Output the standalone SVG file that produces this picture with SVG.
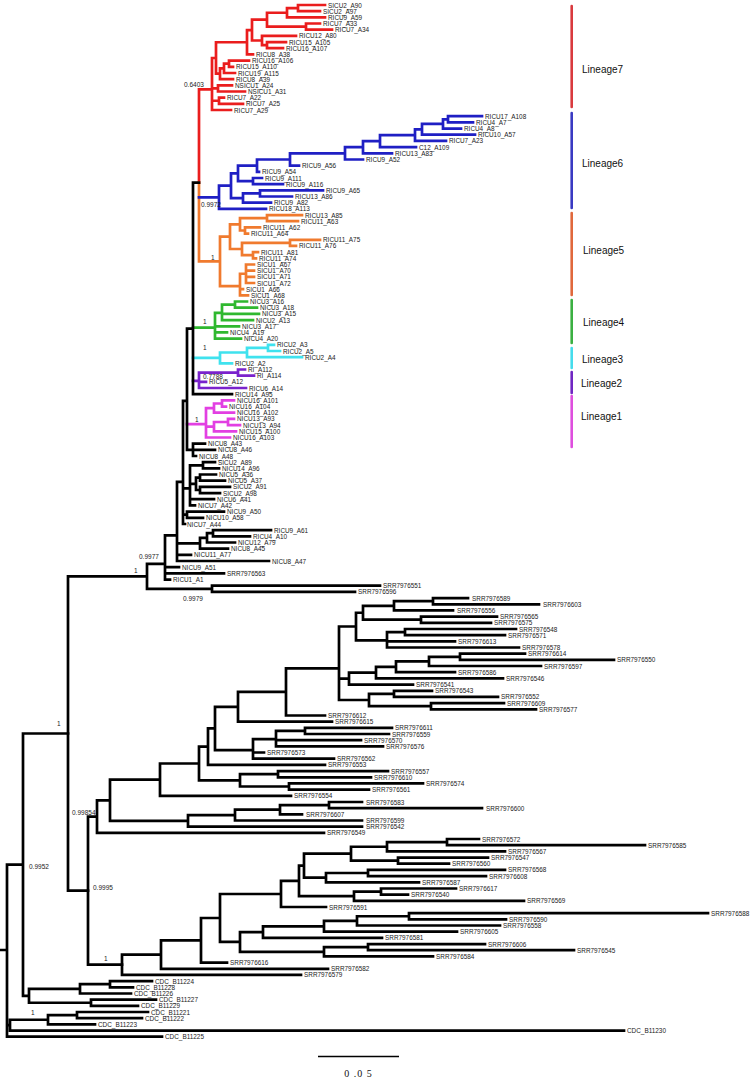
<svg xmlns="http://www.w3.org/2000/svg" width="750" height="1079" viewBox="0 0 750 1079">
<style>
.br{fill:none;stroke-width:2.7;stroke-linecap:square}
.k{stroke:#000}.r{stroke:#ea1d1d}.b{stroke:#1f1fc4}.o{stroke:#f07a2e}.g{stroke:#2fb82f}.c{stroke:#3fe2ee}.p{stroke:#7a22cc}.m{stroke:#e23fe2}
text{font-family:"Liberation Sans",Arial,sans-serif}
.t text{font-size:6.4px;fill:#1a1a1a;dominant-baseline:central}
.s{font-size:6.5px;fill:#222;dominant-baseline:central}
.lin text{font-size:10px;fill:#111;dominant-baseline:central}
.bar{stroke-width:2.6;stroke-linecap:round}
</style>
<rect width="750" height="1079" fill="#fff"/>
<g id="connectors">
<path class="br r" d="M298 5V11.2M298 5H325M298 11.2H320M287 8.1V17.4M287 8.1H298M287 17.4H325M306 23.5V29.7M306 23.5H320M306 29.7H332M267 12.75V26.6M267 12.75H287M267 26.6H306M267 42.1V48.2M267 42.1H286M267 48.2H283M262 35.9V45.15M262 35.9H296M262 45.15H267M252 19.7V40.5M252 19.7H267M252 40.5H262M247 30.1V54.4M247 30.1H252M247 54.4H253M229 60.6V66.8M229 60.6H249M229 66.8H233M224 63.7V73M224 63.7H229M224 73H235M220 68.35V79.1M220 68.35H224M220 79.1H233M216 42.25V73.7M216 42.25H247M216 73.7H220M218 85.3V91.5M218 85.3H232M218 91.5H245M219 97.7V103.8M219 97.7H224M219 103.8H243M212 57.98V110M212 57.98H216M212 88.4H218M212 100.75H219M212 110H231M199 89.3V182.7M199 89.3H212"/>
<path class="br o" d="M199 182.7V261.4M199 261.4H220M267 215.1V221.2M267 215.1H302M267 221.2H298M245 227.4V233.6M245 227.4H260M245 233.6H248M240 218.15V230.5M240 218.15H267M240 230.5H245M290 239.8V245.9M290 239.8H320M290 245.9H296M253 252.1V258.3M253 252.1H258M253 258.3H256M242 242.85V255.2M242 242.85H290M242 255.2H253M230 224.3V249M230 224.3H240M230 249H242M246 264.5V283M246 264.5H254M246 270.7H254M246 276.8H254M246 283H254M240 273.75V295.4M240 273.75H246M240 289.2H243M240 295.4H248M220 236.65V286.1M220 236.65H230M220 286.1H240"/>
<path class="br b" d="M199 197.3H219M448 116.2V122.4M448 116.2H482M448 122.4H473M443 119.3V128.6M443 119.3H448M443 128.6H461M422 123.95V134.7M422 123.95H443M422 134.7H475M415 129.3V140.9M415 129.3H422M415 140.9H446M380 135.1V147.1M380 135.1H415M380 147.1H416M363 141.1V153.3M363 141.1H380M363 153.3H392M345 147.2V159.5M345 147.2H363M345 159.5H363M290 153.35V165.6M290 153.35H345M290 165.6H299M257 159.5V171.8M257 159.5H290M257 171.8H259M253 178V184.2M253 178H262M253 184.2H283M238 165.6V181.1M238 165.6H257M238 181.1H253M260 190.3V196.5M260 190.3H323M260 196.5H292M243 193.4V202.7M243 193.4H260M243 202.7H271M231 173.4V198.05M231 173.4H238M231 198.05H243M219 185.7V208.9M219 185.7H231M219 208.9H266"/>
<path class="br g" d="M193 327.55H215M235 301.5V307.7M235 301.5H247M235 307.7H257M222 304.6V320.1M222 304.6H235M222 313.9H259M222 320.1H253M215 312.9V338.6M215 312.9H222M215 326.3H239M215 332.4H227M215 338.6H241"/>
<path class="br c" d="M193 357.9H220M268 344.8V351M268 344.8H274M268 351H280M247 347.9V357.1M247 347.9H268M247 357.1H302M220 352.5V363.3M220 352.5H247M220 363.3H232"/>
<path class="br p" d="M193 380.8H199M238 369.5V375.7M238 369.5H245M238 375.7H254M199 372.6V388M199 372.6H238M199 381.9H206M199 388H246"/>
<path class="br m" d="M187 424.1H206M222 400.4V406.6M222 400.4H234M222 406.6H226M214 403.5V412.7M214 403.5H222M214 412.7H234M228 418.9V425.1M228 418.9H234M228 425.1H240M214 422V431.3M214 422H228M214 431.3H236M206 408.1V437.5M206 408.1H214M206 426.65H214M206 437.5H230"/>
<path class="br k" d="M193 182.7H199M193 182.7V394.2M193 394.2H232M187 328.6H193M187 328.6V449.8M187 449.8H193M193 443.6V456M193 443.6H205M193 449.8H215M193 456H196M183 400.8V524M183 400.8H187M183 488.4H190M183 514.7H187M183 524H185M203 462.2V468.4M203 462.2H215M203 468.4H219M200 474.5V480.7M200 474.5H216M200 480.7H225M200 486.9V493.1M200 486.9H230M200 493.1H220M196 477.6V490M196 477.6H200M196 490H200M190 465.3V505.4M190 465.3H203M190 483.8H196M190 499.2H214M190 505.4H195M187 511.6V517.8M187 511.6H224M187 517.8H203M213 530.1V536.3M213 530.1H271M213 536.3H250M207 533.2V542.5M207 533.2H213M207 542.5H235M200 537.85V548.7M200 537.85H207M200 548.7H228M177 481.95V561M177 481.95H183M177 543.3H200M177 554.8H191M177 561H269M165 535.3V579.6M165 535.3H177M165 567.2H179M165 573.4H224M165 579.6H170M212 585.7V591.9M212 585.7H380M212 591.9H355M147 563.9V588.8M147 563.9H165M147 588.8H212M68 576.35V890.65M68 576.35H147M68 890.65H88"/>
<path class="br k" d="M433 598.1V604.3M433 598.1H468M433 604.3H539M394 601.2V610.4M394 601.2H433M394 610.4H453M421 616.6V622.8M421 616.6H497M421 622.8H491M363 605.8V619.7M363 605.8H394M363 619.7H421M405 629V635.2M405 629H516M405 635.2H505M387 632.1V647.5M387 632.1H405M387 641.3H455M387 647.5H519M356 612.75V640.3M356 612.75H363M356 640.3H387M460 653.7V659.9M460 653.7H525M460 659.9H614M429 656.8V666M429 656.8H460M429 666H541M396 661.4V672.2M396 661.4H429M396 672.2H455M376 666.8V678.4M376 666.8H396M376 678.4H503M349 672.6V684.6M349 672.6H376M349 684.6H413M394 690.8V696.9M394 690.8H432M394 696.9H498M431 703.1V709.3M431 703.1H504M431 709.3H536M369 693.85V706.2M369 693.85H394M369 706.2H431M339 626.5V700M339 626.5H356M339 678.6H349M339 700H369M286 668.4V715.5M286 668.4H339M286 715.5H325M238 691.95V721.6M238 691.95H286M238 721.6H332M305 727.8V734M305 727.8H392M305 734H389M276 730.9V746.4M276 730.9H305M276 740.2H361M276 746.4H383M253 739.2V758.7M253 739.2H276M253 752.5H264M253 758.7H334M215 706.8V750.1M215 706.8H238M215 750.1H253M208 728.45V764.9M208 728.45H215M208 764.9H325M278 771.1V777.3M278 771.1H388M278 777.3H371M289 783.4V789.6M289 783.4H423M289 789.6H369M240 774.2V786.5M240 774.2H278M240 786.5H289M199 746.7V780.35M199 746.7H208M199 780.35H240M160 763.5V795.8M160 763.5H199M160 795.8H291M329 802V808.1M329 802H362M329 808.1H482M280 805.05V814.3M280 805.05H329M280 814.3H302M235 809.7V820.5M235 809.7H280M235 820.5H362M188 815.1V826.7M188 815.1H235M188 826.7H362M110 779.65V820.9M110 779.65H160M110 820.9H188M97 800.3V832.9M97 800.3H110M97 832.9H324M88 816.6V964.7M88 816.6H97M88 964.7H122"/>
<path class="br k" d="M447 839V845.2M447 839H479M447 845.2H645M387 842.1V851.4M387 842.1H447M387 851.4H505M398 857.6V863.7M398 857.6H488M398 863.7H449M351 846.75V860.65M351 846.75H387M351 860.65H398M368 869.9V876.1M368 869.9H505M368 876.1H486M326 873V882.3M326 873H368M326 882.3H419M304 853.7V877.65M304 853.7H351M304 877.65H326M381 888.5V894.6M381 888.5H456M381 894.6H408M354 891.55V900.8M354 891.55H381M354 900.8H524M299 865.7V896.2M299 865.7H304M299 896.2H354M281 880.95V907M281 880.95H299M281 907H326M409 913.2V919.3M409 913.2H708M409 919.3H506M357 916.25V925.5M357 916.25H409M357 925.5H500M324 920.9V931.7M324 920.9H357M324 931.7H457M263 926.3V937.9M263 926.3H324M263 937.9H382M368 944.1V950.2M368 944.1H485M368 950.2H574M324 947.15V956.4M324 947.15H368M324 956.4H433M240 932.1V951.8M240 932.1H263M240 951.8H324M220 894V941.95M220 894H281M220 941.95H240M201 917.98V962.6M201 917.98H220M201 962.6H227M161 940.3V968.8M161 940.3H201M161 968.8H328M122 954.55V974.9M122 954.55H161M122 974.9H301"/>
<path class="br k" d="M110 981.1V987.3M110 981.1H152M110 987.3H133M80 984.2V993.5M80 984.2H110M80 993.5H131M91 999.7V1005.8M91 999.7H156M91 1005.8H138M29 988.85V1002.75M29 988.85H80M29 1002.75H91M23 733.5V995.8M23 733.5H68M23 995.8H29M77 1012V1018.2M77 1012H148M77 1018.2H142M48 1015.1V1024.4M48 1015.1H77M48 1024.4H95M10 1019.75V1030.6M10 1019.75H48M10 1030.6H624M7 864.65V1036.7M7 864.65H23M7 1025.2H10M7 1036.7H162M1 950H7"/>
</g>
<g id="support-values" class="s">
<text class="s" x="184" y="84">0.6403</text>
<text class="s" x="201" y="204">0.9972</text>
<text class="s" x="211" y="257">1</text>
<text class="s" x="203" y="321">1</text>
<text class="s" x="203" y="347">1</text>
<text class="s" x="203" y="376">0.7788</text>
<text class="s" x="195" y="419">1</text>
<text class="s" x="139" y="556">0.9977</text>
<text class="s" x="134" y="570">1</text>
<text class="s" x="183" y="598">0.9979</text>
<text class="s" x="57" y="723">1</text>
<text class="s" x="72" y="812">0.99854</text>
<text class="s" x="29" y="866">0.9952</text>
<text class="s" x="93" y="887">0.9995</text>
<text class="s" x="104" y="958">1</text>
<text class="s" x="31" y="1012">1</text>
</g>
<g id="leaves" class="t">
<g id="leaf-SICU2_A90"><text x="328" y="5">SICU2_A90</text></g>
<g id="leaf-SICU2_A97"><text x="323" y="11.2">SICU2_A97</text></g>
<g id="leaf-RICU9_A59"><text x="328" y="17.4">RICU9_A59</text></g>
<g id="leaf-RICU7_A33"><text x="323" y="23.5">RICU7_A33</text></g>
<g id="leaf-RICU7_A34"><text x="335" y="29.7">RICU7_A34</text></g>
<g id="leaf-RICU12_A80"><text x="299" y="35.9">RICU12_A80</text></g>
<g id="leaf-RICU15_A105"><text x="289" y="42.1">RICU15_A105</text></g>
<g id="leaf-RICU16_A107"><text x="286" y="48.2">RICU16_A107</text></g>
<g id="leaf-RICU8_A38"><text x="256" y="54.4">RICU8_A38</text></g>
<g id="leaf-RICU16_A106"><text x="252" y="60.6">RICU16_A106</text></g>
<g id="leaf-RICU15_A110"><text x="236" y="66.8">RICU15_A110</text></g>
<g id="leaf-RICU19_A115"><text x="238" y="73">RICU19_A115</text></g>
<g id="leaf-RICU8_A39"><text x="236" y="79.1">RICU8_A39</text></g>
<g id="leaf-NSICU1_A24"><text x="235" y="85.3">NSICU1_A24</text></g>
<g id="leaf-NSICU1_A31"><text x="248" y="91.5">NSICU1_A31</text></g>
<g id="leaf-RICU7_A22"><text x="227" y="97.7">RICU7_A22</text></g>
<g id="leaf-RICU7_A25"><text x="246" y="103.8">RICU7_A25</text></g>
<g id="leaf-RICU7_A29"><text x="234" y="110">RICU7_A29</text></g>
<g id="leaf-RICU17_A108"><text x="485" y="116.2">RICU17_A108</text></g>
<g id="leaf-RICU4_A7"><text x="476" y="122.4">RICU4_A7</text></g>
<g id="leaf-RICU4_A8"><text x="464" y="128.6">RICU4_A8</text></g>
<g id="leaf-RICU10_A57"><text x="478" y="134.7">RICU10_A57</text></g>
<g id="leaf-RICU7_A23"><text x="449" y="140.9">RICU7_A23</text></g>
<g id="leaf-C12_A109"><text x="419" y="147.1">C12_A109</text></g>
<g id="leaf-RICU13_A83"><text x="395" y="153.3">RICU13_A83</text></g>
<g id="leaf-RICU9_A52"><text x="366" y="159.5">RICU9_A52</text></g>
<g id="leaf-RICU9_A56"><text x="302" y="165.6">RICU9_A56</text></g>
<g id="leaf-RICU9_A54"><text x="262" y="171.8">RICU9_A54</text></g>
<g id="leaf-RICU9_A111"><text x="265" y="178">RICU9_A111</text></g>
<g id="leaf-RICU9_A116"><text x="286" y="184.2">RICU9_A116</text></g>
<g id="leaf-RICU9_A65"><text x="326" y="190.3">RICU9_A65</text></g>
<g id="leaf-RICU13_A86"><text x="295" y="196.5">RICU13_A86</text></g>
<g id="leaf-RICU9_A82"><text x="274" y="202.7">RICU9_A82</text></g>
<g id="leaf-RICU18_A113"><text x="269" y="208.9">RICU18_A113</text></g>
<g id="leaf-RICU13_A85"><text x="305" y="215.1">RICU13_A85</text></g>
<g id="leaf-RICU11_A63"><text x="301" y="221.2">RICU11_A63</text></g>
<g id="leaf-RICU11_A62"><text x="263" y="227.4">RICU11_A62</text></g>
<g id="leaf-RICU11_A64"><text x="251" y="233.6">RICU11_A64</text></g>
<g id="leaf-RICU11_A75"><text x="323" y="239.8">RICU11_A75</text></g>
<g id="leaf-RICU11_A76"><text x="299" y="245.9">RICU11_A76</text></g>
<g id="leaf-RICU11_A81"><text x="261" y="252.1">RICU11_A81</text></g>
<g id="leaf-RICU11_A74"><text x="259" y="258.3">RICU11_A74</text></g>
<g id="leaf-SICU1_A67"><text x="257" y="264.5">SICU1_A67</text></g>
<g id="leaf-SICU1_A70"><text x="257" y="270.7">SICU1_A70</text></g>
<g id="leaf-SICU1_A71"><text x="257" y="276.8">SICU1_A71</text></g>
<g id="leaf-SICU1_A72"><text x="257" y="283">SICU1_A72</text></g>
<g id="leaf-SICU1_A66"><text x="246" y="289.2">SICU1_A66</text></g>
<g id="leaf-SICU1_A68"><text x="251" y="295.4">SICU1_A68</text></g>
<g id="leaf-NICU3_A16"><text x="250" y="301.5">NICU3_A16</text></g>
<g id="leaf-NICU3_A18"><text x="260" y="307.7">NICU3_A18</text></g>
<g id="leaf-NICU3_A15"><text x="262" y="313.9">NICU3_A15</text></g>
<g id="leaf-NICU2_A13"><text x="256" y="320.1">NICU2_A13</text></g>
<g id="leaf-NICU3_A17"><text x="242" y="326.3">NICU3_A17</text></g>
<g id="leaf-NICU4_A19"><text x="230" y="332.4">NICU4_A19</text></g>
<g id="leaf-NICU4_A20"><text x="244" y="338.6">NICU4_A20</text></g>
<g id="leaf-RICU2_A3"><text x="277" y="344.8">RICU2_A3</text></g>
<g id="leaf-RICU2_A5"><text x="283" y="351">RICU2_A5</text></g>
<g id="leaf-RICU2_A4"><text x="305" y="357.1">RICU2_A4</text></g>
<g id="leaf-RICU2_A2"><text x="235" y="363.3">RICU2_A2</text></g>
<g id="leaf-RI_A112"><text x="248" y="369.5">RI_A112</text></g>
<g id="leaf-RI_A114"><text x="257" y="375.7">RI_A114</text></g>
<g id="leaf-RICU5_A12"><text x="209" y="381.9">RICU5_A12</text></g>
<g id="leaf-RICU6_A14"><text x="249" y="388">RICU6_A14</text></g>
<g id="leaf-RICU14_A95"><text x="235" y="394.2">RICU14_A95</text></g>
<g id="leaf-NICU16_A101"><text x="237" y="400.4">NICU16_A101</text></g>
<g id="leaf-NICU16_A104"><text x="229" y="406.6">NICU16_A104</text></g>
<g id="leaf-NICU16_A102"><text x="237" y="412.7">NICU16_A102</text></g>
<g id="leaf-NICU13_A93"><text x="237" y="418.9">NICU13_A93</text></g>
<g id="leaf-NICU13_A94"><text x="243" y="425.1">NICU13_A94</text></g>
<g id="leaf-NICU15_A100"><text x="239" y="431.3">NICU15_A100</text></g>
<g id="leaf-NICU16_A103"><text x="233" y="437.5">NICU16_A103</text></g>
<g id="leaf-NICU8_A43"><text x="208" y="443.6">NICU8_A43</text></g>
<g id="leaf-NICU8_A46"><text x="218" y="449.8">NICU8_A46</text></g>
<g id="leaf-NICU8_A48"><text x="199" y="456">NICU8_A48</text></g>
<g id="leaf-SICU2_A89"><text x="218" y="462.2">SICU2_A89</text></g>
<g id="leaf-NICU14_A96"><text x="222" y="468.4">NICU14_A96</text></g>
<g id="leaf-NICU5_A36"><text x="219" y="474.5">NICU5_A36</text></g>
<g id="leaf-NICU5_A37"><text x="228" y="480.7">NICU5_A37</text></g>
<g id="leaf-SICU2_A91"><text x="233" y="486.9">SICU2_A91</text></g>
<g id="leaf-SICU2_A98"><text x="223" y="493.1">SICU2_A98</text></g>
<g id="leaf-NICU6_A41"><text x="217" y="499.2">NICU6_A41</text></g>
<g id="leaf-NICU7_A42"><text x="198" y="505.4">NICU7_A42</text></g>
<g id="leaf-NICU9_A50"><text x="227" y="511.6">NICU9_A50</text></g>
<g id="leaf-NICU10_A58"><text x="206" y="517.8">NICU10_A58</text></g>
<g id="leaf-NICU7_A44"><text x="187" y="524">NICU7_A44</text></g>
<g id="leaf-RICU9_A61"><text x="274" y="530.1">RICU9_A61</text></g>
<g id="leaf-RICU4_A10"><text x="253" y="536.3">RICU4_A10</text></g>
<g id="leaf-NICU12_A79"><text x="238" y="542.5">NICU12_A79</text></g>
<g id="leaf-NICU8_A45"><text x="231" y="548.7">NICU8_A45</text></g>
<g id="leaf-NICU11_A77"><text x="194" y="554.8">NICU11_A77</text></g>
<g id="leaf-NICU8_A47"><text x="272" y="561">NICU8_A47</text></g>
<g id="leaf-NICU9_A51"><text x="182" y="567.2">NICU9_A51</text></g>
<g id="leaf-SRR7976563"><text x="227" y="573.4">SRR7976563</text></g>
<g id="leaf-RICU1_A1"><text x="173" y="579.6">RICU1_A1</text></g>
<g id="leaf-SRR7976551"><text x="383" y="585.7">SRR7976551</text></g>
<g id="leaf-SRR7976596"><text x="358" y="591.9">SRR7976596</text></g>
<g id="leaf-SRR7976589"><text x="472" y="598.1">SRR7976589</text></g>
<g id="leaf-SRR7976603"><text x="543" y="604.3">SRR7976603</text></g>
<g id="leaf-SRR7976556"><text x="457" y="610.4">SRR7976556</text></g>
<g id="leaf-SRR7976565"><text x="500" y="616.6">SRR7976565</text></g>
<g id="leaf-SRR7976575"><text x="494" y="622.8">SRR7976575</text></g>
<g id="leaf-SRR7976548"><text x="519" y="629">SRR7976548</text></g>
<g id="leaf-SRR7976571"><text x="508" y="635.2">SRR7976571</text></g>
<g id="leaf-SRR7976613"><text x="458" y="641.3">SRR7976613</text></g>
<g id="leaf-SRR7976578"><text x="522" y="647.5">SRR7976578</text></g>
<g id="leaf-SRR7976614"><text x="528" y="653.7">SRR7976614</text></g>
<g id="leaf-SRR7976550"><text x="617" y="659.9">SRR7976550</text></g>
<g id="leaf-SRR7976597"><text x="544" y="666">SRR7976597</text></g>
<g id="leaf-SRR7976586"><text x="458" y="672.2">SRR7976586</text></g>
<g id="leaf-SRR7976546"><text x="506" y="678.4">SRR7976546</text></g>
<g id="leaf-SRR7976541"><text x="416" y="684.6">SRR7976541</text></g>
<g id="leaf-SRR7976543"><text x="435" y="690.8">SRR7976543</text></g>
<g id="leaf-SRR7976552"><text x="501" y="696.9">SRR7976552</text></g>
<g id="leaf-SRR7976609"><text x="507" y="703.1">SRR7976609</text></g>
<g id="leaf-SRR7976577"><text x="539" y="709.3">SRR7976577</text></g>
<g id="leaf-SRR7976612"><text x="328" y="715.5">SRR7976612</text></g>
<g id="leaf-SRR7976615"><text x="335" y="721.6">SRR7976615</text></g>
<g id="leaf-SRR7976611"><text x="395" y="727.8">SRR7976611</text></g>
<g id="leaf-SRR7976559"><text x="392" y="734">SRR7976559</text></g>
<g id="leaf-SRR7976570"><text x="364" y="740.2">SRR7976570</text></g>
<g id="leaf-SRR7976576"><text x="386" y="746.4">SRR7976576</text></g>
<g id="leaf-SRR7976573"><text x="267" y="752.5">SRR7976573</text></g>
<g id="leaf-SRR7976562"><text x="337" y="758.7">SRR7976562</text></g>
<g id="leaf-SRR7976553"><text x="328" y="764.9">SRR7976553</text></g>
<g id="leaf-SRR7976557"><text x="391" y="771.1">SRR7976557</text></g>
<g id="leaf-SRR7976610"><text x="374" y="777.3">SRR7976610</text></g>
<g id="leaf-SRR7976574"><text x="426" y="783.4">SRR7976574</text></g>
<g id="leaf-SRR7976561"><text x="372" y="789.6">SRR7976561</text></g>
<g id="leaf-SRR7976554"><text x="294" y="795.8">SRR7976554</text></g>
<g id="leaf-SRR7976583"><text x="366" y="802">SRR7976583</text></g>
<g id="leaf-SRR7976600"><text x="486" y="808.1">SRR7976600</text></g>
<g id="leaf-SRR7976607"><text x="306" y="814.3">SRR7976607</text></g>
<g id="leaf-SRR7976599"><text x="366" y="820.5">SRR7976599</text></g>
<g id="leaf-SRR7976542"><text x="366" y="826.7">SRR7976542</text></g>
<g id="leaf-SRR7976549"><text x="327" y="832.9">SRR7976549</text></g>
<g id="leaf-SRR7976572"><text x="482" y="839">SRR7976572</text></g>
<g id="leaf-SRR7976585"><text x="648" y="845.2">SRR7976585</text></g>
<g id="leaf-SRR7976567"><text x="508" y="851.4">SRR7976567</text></g>
<g id="leaf-SRR7976547"><text x="491" y="857.6">SRR7976547</text></g>
<g id="leaf-SRR7976560"><text x="452" y="863.7">SRR7976560</text></g>
<g id="leaf-SRR7976568"><text x="508" y="869.9">SRR7976568</text></g>
<g id="leaf-SRR7976608"><text x="489" y="876.1">SRR7976608</text></g>
<g id="leaf-SRR7976587"><text x="422" y="882.3">SRR7976587</text></g>
<g id="leaf-SRR7976617"><text x="459" y="888.5">SRR7976617</text></g>
<g id="leaf-SRR7976540"><text x="411" y="894.6">SRR7976540</text></g>
<g id="leaf-SRR7976569"><text x="527" y="900.8">SRR7976569</text></g>
<g id="leaf-SRR7976591"><text x="329" y="907">SRR7976591</text></g>
<g id="leaf-SRR7976588"><text x="711" y="913.2">SRR7976588</text></g>
<g id="leaf-SRR7976590"><text x="509" y="919.3">SRR7976590</text></g>
<g id="leaf-SRR7976558"><text x="503" y="925.5">SRR7976558</text></g>
<g id="leaf-SRR7976605"><text x="460" y="931.7">SRR7976605</text></g>
<g id="leaf-SRR7976581"><text x="385" y="937.9">SRR7976581</text></g>
<g id="leaf-SRR7976606"><text x="488" y="944.1">SRR7976606</text></g>
<g id="leaf-SRR7976545"><text x="577" y="950.2">SRR7976545</text></g>
<g id="leaf-SRR7976584"><text x="436" y="956.4">SRR7976584</text></g>
<g id="leaf-SRR7976616"><text x="230" y="962.6">SRR7976616</text></g>
<g id="leaf-SRR7976582"><text x="331" y="968.8">SRR7976582</text></g>
<g id="leaf-SRR7976579"><text x="304" y="974.9">SRR7976579</text></g>
<g id="leaf-CDC_B11224"><text x="155" y="981.1">CDC_B11224</text></g>
<g id="leaf-CDC_B11228"><text x="136" y="987.3">CDC_B11228</text></g>
<g id="leaf-CDC_B11226"><text x="134" y="993.5">CDC_B11226</text></g>
<g id="leaf-CDC_B11227"><text x="159" y="999.7">CDC_B11227</text></g>
<g id="leaf-CDC_B11229"><text x="141" y="1005.8">CDC_B11229</text></g>
<g id="leaf-CDC_B11221"><text x="151" y="1012">CDC_B11221</text></g>
<g id="leaf-CDC_B11222"><text x="145" y="1018.2">CDC_B11222</text></g>
<g id="leaf-CDC_B11223"><text x="98" y="1024.4">CDC_B11223</text></g>
<g id="leaf-CDC_B11230"><text x="627" y="1030.6">CDC_B11230</text></g>
<g id="leaf-CDC_B11225"><text x="165" y="1036.7">CDC_B11225</text></g>
</g>
<g id="lineages" class="lin">
<g id="lineage7"><line class="bar" x1="571.7" y1="6" x2="571.7" y2="107" stroke="#d93a3e"/><text x="582" y="69">Lineage7</text></g>
<g id="lineage6"><line class="bar" x1="571.7" y1="113" x2="571.7" y2="208" stroke="#3a3ac2"/><text x="582" y="163">Lineage6</text></g>
<g id="lineage5"><line class="bar" x1="571.7" y1="213" x2="571.7" y2="295" stroke="#e0683c"/><text x="583" y="250">Lineage5</text></g>
<g id="lineage4"><line class="bar" x1="571.7" y1="300" x2="571.7" y2="343" stroke="#3bb042"/><text x="583" y="322">Lineage4</text></g>
<g id="lineage3"><line class="bar" x1="571.7" y1="348" x2="571.7" y2="368" stroke="#45dcec"/><text x="582" y="359">Lineage3</text></g>
<g id="lineage2"><line class="bar" x1="571.7" y1="372" x2="571.7" y2="393" stroke="#7026c2"/><text x="581" y="383">Lineage2</text></g>
<g id="lineage1"><line class="bar" x1="571.7" y1="396" x2="571.7" y2="447" stroke="#de4ede"/><text x="581" y="416">Lineage1</text></g>
</g>
<g id="scale-bar">
<path d="M318 1056.5H399" stroke="#000" stroke-width="1.4"/>
<text x="358.5" y="1077" text-anchor="middle" style="font-family:'Liberation Serif','Times New Roman',serif;font-size:10px;letter-spacing:1px;fill:#111">0 .0 5</text>
</g>
</svg>
